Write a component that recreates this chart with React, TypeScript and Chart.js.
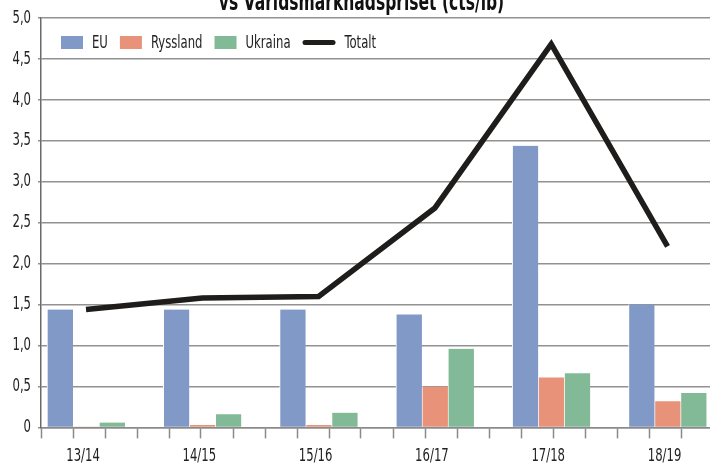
import React, { useEffect, useRef } from 'react';
import { Chart, registerables } from 'chart.js';

Chart.register(...registerables);

// ---- data ----
const categories = ['13/14', '14/15', '15/16', '16/17', '17/18', '18/19'];
const euValues = [1.44, 1.44, 1.44, 1.38, 3.44, 1.5];
const russiaValues = [0.01, 0.03, 0.03, 0.5, 0.61, 0.32];
const ukraineValues = [0.06, 0.16, 0.18, 0.96, 0.66, 0.42];
const totalValues = [1.44, 1.58, 1.6, 2.68, 4.68, 2.21];
const yTickValues = [0, 0.5, 1, 1.5, 2, 2.5, 3, 3.5, 4, 4.5, 5];
const seriesLabels = ['EU', 'Ryssland', 'Ukraina', 'Totalt'];
const titleText = 'vs Världsmarknadspriset (cts/lb)';

// ---- axis configuration ----
const X_MIN = -0.387;
const X_MAX = 5.391;
const TICK_DIVISIONS = 21;

const FONT = "'DejaVu Sans Condensed', 'DejaVu Sans', sans-serif";
const TEXT_SX = 0.72; // horizontal compression to imitate the narrow typeface
const TEXT = '#222222';
const GRID = '#929292';
const AXIS = '#8a8a8a';

const formatY = (v: number) => (v === 0 ? '0' : v.toFixed(1).replace('.', ','));

const narrowText = {
  id: 'narrowText',
  beforeInit(chart: any) {
    const ctx = chart.ctx;
    if (ctx.__narrowPatched) return;
    const orig = ctx.fillText.bind(ctx);
    ctx.fillText = (text: string, x: number, y: number, maxWidth?: number) => {
      ctx.save();
      ctx.translate(x, y);
      ctx.scale(TEXT_SX, 1);
      if (maxWidth === undefined) orig(text, 0, 0);
      else orig(text, 0, 0, maxWidth / TEXT_SX);
      ctx.restore();
    };
    ctx.__narrowPatched = true;
  },
};

const insideLegend = {
  id: 'insideLegend',
  afterDraw(chart: any) {
    const { ctx, chartArea } = chart;
    ctx.save();
    ctx.font = `18px ${FONT}`;
    ctx.textBaseline = 'middle';
    ctx.textAlign = 'left';
    const boxW = 22;
    const boxH = 13;
    const yTop = chartArea.top + 18;
    const yMid = yTop + boxH / 2;
    let x = chartArea.left + 20;
    chart.data.datasets.forEach((ds: any) => {
      if (ds.type === 'line') {
        ctx.strokeStyle = ds.borderColor;
        ctx.lineWidth = 5;
        ctx.lineCap = 'round';
        ctx.beginPath();
        ctx.moveTo(x + 2.5, yMid);
        ctx.lineTo(x + 30.5, yMid);
        ctx.stroke();
        x += 33;
      } else {
        ctx.fillStyle = ds.backgroundColor;
        ctx.fillRect(x, yTop, boxW, boxH);
        x += boxW;
      }
      x += 9;
      ctx.fillStyle = TEXT;
      ctx.fillText(ds.label, x, yMid + 0.5);
      x += ctx.measureText(ds.label).width * TEXT_SX + 12;
    });
    ctx.restore();
  },
};

export default function App() {
  const ref = useRef<HTMLCanvasElement | null>(null);

  useEffect(() => {
    if (!ref.current) return;
    const toXY = (arr: number[]) => arr.map((y, i) => ({ x: i, y }));
    const barCommon = {
      barThickness: 26,
      borderColor: '#ffffff',
      borderWidth: { left: 1, right: 0, top: 0, bottom: 0 },
      borderSkipped: false,
      order: 1,
    };
    const chart = new Chart(ref.current, {
      type: 'bar',
      data: {
        datasets: [
          { ...barCommon, type: 'bar', label: seriesLabels[0], data: toXY(euValues), backgroundColor: '#8199c7' },
          { ...barCommon, type: 'bar', label: seriesLabels[1], data: toXY(russiaValues), backgroundColor: '#e89379' },
          { ...barCommon, type: 'bar', label: seriesLabels[2], data: toXY(ukraineValues), backgroundColor: '#82b996' },
          {
            type: 'line',
            label: seriesLabels[3],
            data: toXY(totalValues),
            borderColor: '#1f1d1b',
            backgroundColor: '#1f1d1b',
            borderWidth: 5.5,
            pointRadius: 0,
            tension: 0,
            borderJoinStyle: 'miter',
            borderCapStyle: 'butt',
            order: 0,
          },
        ] as any,
      },
      options: {
        animation: false,
        responsive: false,
        devicePixelRatio: 1,
        layout: { padding: { left: 10, right: 10, top: 0, bottom: 5 } },
        plugins: {
          legend: { display: false },
          tooltip: { enabled: false },
          title: {
            display: true,
            text: titleText,
            color: '#111111',
            font: { family: FONT, size: 24, weight: 'bold' },
            padding: { top: 19.2, bottom: 0 },
          },
        },
        scales: {
          // tick marks along the category axis
          x: {
            type: 'linear',
            position: 'bottom',
            weight: 0,
            min: X_MIN,
            max: X_MAX,
            offset: false,
            afterBuildTicks: (scale: any) => {
              const ticks: any[] = [];
              for (let k = 0; k <= TICK_DIVISIONS; k++) {
                ticks.push({ value: X_MIN + (k * (X_MAX - X_MIN)) / TICK_DIVISIONS });
              }
              scale.ticks = ticks;
            },
            ticks: { display: false },
            grid: {
              offset: false,
              drawOnChartArea: false,
              drawTicks: true,
              tickLength: 11,
              tickWidth: 1.5,
              tickColor: AXIS,
            },
            border: { display: true, color: AXIS, width: 1.5 },
          },
          // category labels
          xLabels: {
            type: 'linear',
            position: 'bottom',
            weight: 1,
            min: X_MIN,
            max: X_MAX,
            offset: false,
            afterBuildTicks: (scale: any) => {
              scale.ticks = categories.map((_, i) => ({ value: i }));
            },
            ticks: {
              autoSkip: false,
              maxRotation: 0,
              padding: 7,
              labelOffset: -3,
              color: TEXT,
              font: { family: FONT, size: 18 },
              callback: (value: any) => categories[Math.round(value)],
            },
            grid: { display: false, drawTicks: false, drawOnChartArea: false },
            border: { display: false },
          },
          y: {
            min: 0,
            max: 5,
            afterBuildTicks: (scale: any) => {
              scale.ticks = yTickValues.map((v) => ({ value: v }));
            },
            afterFit: (scale: any) => {
              scale.width = 31;
            },
            ticks: {
              padding: 7,
              color: TEXT,
              font: { family: FONT, size: 18 },
              callback: (v: any) => formatY(Number(v)),
            },
            grid: { color: GRID, lineWidth: 1.5, tickLength: 3, tickColor: GRID },
            border: { display: true, color: '#6a6a6a', width: 1.5 },
          },
        },
      } as any,
      plugins: [narrowText, insideLegend],
    });
    return () => chart.destroy();
  }, []);

  return (
    <div
      style={{
        position: 'fixed',
        left: 0,
        top: 0,
        width: 710,
        height: 465,
        overflow: 'hidden',
        background: '#ffffff',
      }}
    >
      <canvas
        ref={ref}
        width={723}
        height={509}
        style={{ position: 'absolute', left: 0, top: -30, width: 723, height: 509 }}
      />
    </div>
  );
}
